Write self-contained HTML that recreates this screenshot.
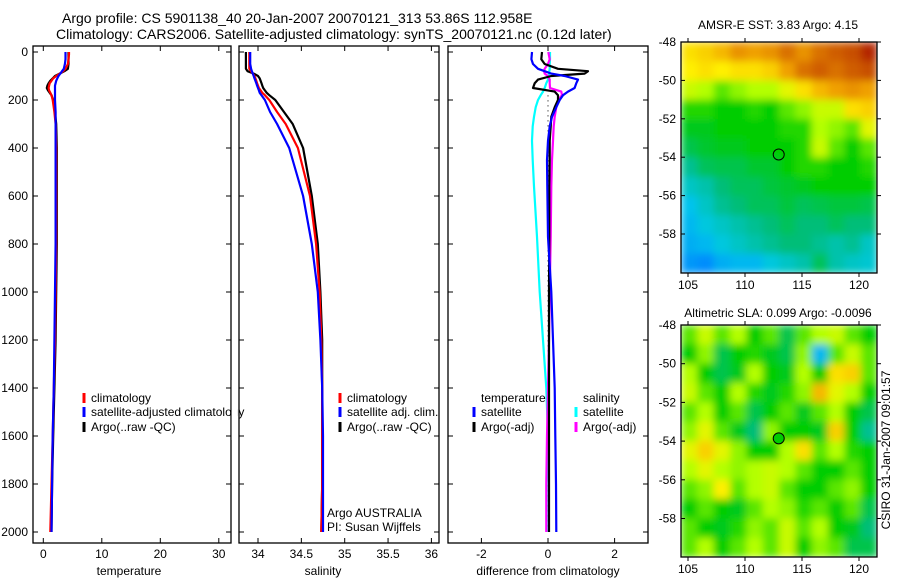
<!DOCTYPE html>
<html><head><meta charset="utf-8"><style>
html,body{margin:0;padding:0;background:#fff;}
svg{display:block;font-family:"Liberation Sans",sans-serif;}
</style></head><body>
<svg id="fig" width="900" height="580" viewBox="0 0 900 580">
<defs>
<filter id="soft" x="0" y="0" width="1" height="1"><feGaussianBlur stdDeviation="4" edgeMode="duplicate"/></filter>
<clipPath id="clip1"><rect x="681" y="42" width="196" height="231"/></clipPath>
<clipPath id="clip2"><rect x="681" y="325" width="196" height="232"/></clipPath>
</defs>
<text x="62" y="23" font-size="14">Argo profile: CS 5901138_40 20-Jan-2007 20070121_313 53.86S 112.958E</text>
<text x="56" y="39" font-size="14">Climatology: CARS2006. Satellite-adjusted climatology: synTS_20070121.nc (0.12d later)</text>
<text x="778" y="29" font-size="12" text-anchor="middle">AMSR-E SST: 3.83 Argo: 4.15</text>
<text x="778" y="317" font-size="12" text-anchor="middle">Altimetric SLA: 0.099 Argo: -0.0096</text>
<text transform="translate(890,450) rotate(-90)" font-size="12" text-anchor="middle">CSIRO 31-Jan-2007 09:01:57</text>
</svg>
<script>
// ---- data ----
const depthT = [0,10,30,50,70,80,90,100,110,120,130,140,150,160,170,180,200,250,300,400,600,800,1000,1200,1400,1600,1800,2000];
const tempClim = [4.4,4.4,4.3,4.2,3.8,3.4,2.8,2.2,1.7,1.4,1.1,1.0,0.9,1.0,1.2,1.4,1.6,1.9,2.1,2.2,2.2,2.2,2.1,2.0,1.8,1.6,1.4,1.2];
const tempSat = [3.8,3.8,3.8,3.7,3.5,3.2,2.9,2.6,2.4,2.2,2.1,2.0,2.0,2.0,2.0,2.0,2.0,2.1,2.1,2.1,2.1,2.1,2.0,1.9,1.8,1.6,1.5,1.4];
const tempArgo = [4.3,4.3,4.3,4.3,4.2,3.6,2.8,2.0,1.6,1.2,0.9,0.7,0.6,0.8,1.1,1.4,1.7,2.0,2.2,2.3,2.3,2.3,2.2,2.1,1.9,1.7,1.5,1.4];
const salClim = [33.9,33.9,33.9,33.9,33.9,33.92,33.94,33.96,33.97,33.98,33.99,34.0,34.01,34.03,34.05,34.08,34.13,34.22,34.32,34.46,34.6,34.67,34.71,34.73,34.74,34.74,34.74,34.73];
const salSat = [33.91,33.91,33.91,33.91,33.92,33.93,33.94,33.95,33.96,33.97,33.98,33.99,34.0,34.01,34.02,34.04,34.08,34.14,34.22,34.36,34.52,34.62,34.69,34.72,34.74,34.75,34.75,34.75];
const salArgo = [33.86,33.86,33.86,33.86,33.86,33.88,33.95,34.0,34.02,34.03,34.04,34.05,34.06,34.08,34.1,34.13,34.2,34.3,34.4,34.52,34.62,34.69,34.72,34.74,34.74,34.74,34.74,34.73];
const depthD = [0,30,50,70,80,90,100,115,130,150,165,180,200,230,270,310,370,450,560,770,1000,1200,1400,1600,1800,2000];
const dTempSat = [-0.48,-0.5,-0.45,-0.3,-0.1,0.1,0.5,0.9,0.85,0.8,0.6,0.45,0.35,0.25,0.12,0.05,0,-0.03,-0.02,0,0.1,0.15,0.2,0.22,0.24,0.25];
const dTempArgo = [-0.18,-0.2,-0.1,0.3,1.2,1.1,0.1,-0.3,-0.4,-0.45,0.2,0.3,0.3,0.2,0.1,0.08,0.05,0.05,0.04,0.04,0.03,0.03,0.03,0.03,0.03,0.03];
const dSalSat = [0.06,0.06,0.05,0.05,0.04,0.04,0.03,0.0,-0.05,-0.1,-0.15,-0.22,-0.3,-0.37,-0.42,-0.46,-0.48,-0.46,-0.42,-0.33,-0.25,-0.15,-0.05,0,0.02,0.02];
const dSalArgo = [0.01,0.05,0.0,-0.1,-0.12,-0.1,0.0,0.05,0.05,0.06,0.4,0.42,0.3,0.25,0.2,0.17,0.15,0.12,0.1,0.08,0.05,0.03,0.0,-0.03,-0.05,-0.05];
const depthTicks = [0,200,400,600,800,1000,1200,1400,1600,1800,2000];
const tempTicks = [0,10,20,30];
const salTicks = ["34","34.5","35","35.5","36"];
const diffTicks = [-2,0,2];
const lonTicks = [105,110,115,120];
const latTicks = [-48,-50,-52,-54,-56,-58];
const sstGrid = [
[0.7,0.72,0.75,0.8,0.78,0.8,0.85,0.8,0.85,0.88,0.9,0.95],
[0.68,0.7,0.68,0.7,0.7,0.72,0.78,0.85,0.88,0.85,0.88,0.9],
[0.62,0.6,0.55,0.58,0.6,0.6,0.65,0.7,0.75,0.78,0.8,0.78],
[0.52,0.52,0.5,0.5,0.52,0.5,0.55,0.58,0.62,0.62,0.7,0.72],
[0.48,0.48,0.5,0.5,0.5,0.5,0.52,0.52,0.6,0.58,0.55,0.65],
[0.45,0.47,0.48,0.48,0.5,0.5,0.5,0.52,0.62,0.55,0.5,0.55],
[0.4,0.44,0.45,0.45,0.47,0.47,0.5,0.52,0.52,0.5,0.5,0.52],
[0.36,0.38,0.42,0.44,0.44,0.46,0.47,0.48,0.5,0.5,0.5,0.5],
[0.32,0.36,0.4,0.42,0.44,0.44,0.46,0.44,0.45,0.46,0.46,0.45],
[0.3,0.34,0.36,0.38,0.4,0.42,0.44,0.42,0.42,0.44,0.42,0.42],
[0.28,0.3,0.34,0.36,0.38,0.4,0.42,0.42,0.4,0.38,0.4,0.36],
[0.24,0.22,0.28,0.3,0.3,0.34,0.36,0.38,0.44,0.38,0.36,0.35]];
const slaGrid = [
[0.55,0.62,0.55,0.6,0.5,0.55,0.45,0.55,0.6,0.62,0.55,0.5],
[0.5,0.58,0.45,0.5,0.52,0.48,0.45,0.58,0.3,0.55,0.62,0.55],
[0.6,0.5,0.45,0.48,0.6,0.5,0.48,0.6,0.5,0.7,0.72,0.55],
[0.62,0.55,0.5,0.6,0.52,0.48,0.52,0.58,0.75,0.65,0.6,0.5],
[0.55,0.6,0.5,0.55,0.45,0.5,0.55,0.48,0.55,0.6,0.5,0.45],
[0.58,0.65,0.55,0.48,0.42,0.58,0.5,0.5,0.48,0.72,0.5,0.4],
[0.65,0.72,0.65,0.58,0.5,0.5,0.6,0.7,0.55,0.6,0.52,0.5],
[0.6,0.65,0.6,0.58,0.6,0.62,0.6,0.55,0.5,0.5,0.55,0.5],
[0.55,0.58,0.68,0.55,0.6,0.62,0.55,0.5,0.5,0.55,0.58,0.5],
[0.5,0.55,0.5,0.48,0.55,0.6,0.58,0.52,0.55,0.5,0.55,0.45],
[0.55,0.5,0.48,0.52,0.58,0.55,0.62,0.55,0.6,0.5,0.48,0.42],
[0.55,0.6,0.5,0.55,0.6,0.55,0.62,0.5,0.58,0.55,0.45,0.45]];
const argoLon = 112.958, argoLat = -53.86;

// ---- helpers ----
const svg = document.getElementById('fig');
const NS = 'http://www.w3.org/2000/svg';
function mk(tag, attrs, parent){const e=document.createElementNS(NS,tag);for(const k in attrs)e.setAttribute(k,attrs[k]);(parent||svg).appendChild(e);return e;}
const yD = d => 52 + d*0.24;
const xT = t => 43.3 + t*5.85;
const xS = s => 258 + (s-34)*86.7;
const xDf = v => 548 + v*33.3;
const xLon = l => 688 + (l-105)*11.4;
const yLat1 = la => 42 + (-48-la)*19.2;
const yLat2 = la => 325 + (-48-la)*19.35;

function panel(name, x0, x1, y0, y1){
  const r = mk('rect',{x:x0,y:y0,width:x1-x0,height:y1-y0,fill:'none',stroke:'#000','stroke-width':1.3});
  
  
}
function depthAxis(x0,x1,labels){
  depthTicks.forEach(d=>{
    const y=yD(d);
    const t1=mk('line',{x1:x0,x2:x0+5,y1:y,y2:y,stroke:'#000'});
    
    
    mk('line',{x1:x1-5,x2:x1,y1:y,y2:y,stroke:'#000'});
    if(labels){const t=mk('text',{x:28,y:y+4,'font-size':12,'text-anchor':'end'});t.textContent=d;
      
      }
  });
}
function xAxis(ticks, fx, y0, y1, title, tx){
  ticks.forEach(v=>{
    const x=fx(parseFloat(v));
    mk('line',{x1:x,x2:x,y1:y1,y2:y1-5,stroke:'#000'});
    mk('line',{x1:x,x2:x,y1:y0,y2:y0+5,stroke:'#000'});
    const t=mk('text',{x:x,y:y1+15,'font-size':12,'text-anchor':'middle'});t.textContent=v;
    
    
  });
  const t=mk('text',{x:tx,y:y1+32,'font-size':12,'text-anchor':'middle'});t.textContent=title;
  
  
}
function line(vals, depths, fx, color, name, w){
  const pts = vals.map((v,i)=>fx(v).toFixed(1)+','+yD(depths[i]).toFixed(1)).join(' ');
  const p=mk('polyline',{points:pts,fill:'none',stroke:color,'stroke-width':w||2.2,'stroke-linejoin':'round'});
  
  
}
function legendEntry(x,y,color,label,name){
  mk('line',{x1:x,x2:x,y1:y-9,y2:y+1,stroke:color,'stroke-width':3});
  const t=mk('text',{x:x+7,y:y,'font-size':12});t.textContent=label;
  
  
}

// ---- temperature panel ----
panel('temperature-panel',33,231,46,543);
depthAxis(33,231,true);
xAxis(tempTicks,xT,46,543,'temperature',129);
line(tempArgo,depthT,xT,'#000','temp-argo-line');
line(tempClim,depthT,xT,'#f00','temp-climatology-line');
line(tempSat,depthT,xT,'#00f','temp-satellite-line');
legendEntry(84,402,'#f00','climatology','legend-climatology');
legendEntry(84,416,'#00f','satellite-adjusted climatology','legend-satellite-adjusted');
legendEntry(84,431,'#000','Argo(..raw -QC)','legend-argo');
mk('rect',{x:231.7,y:380,width:6,height:60,fill:'#fff'});

// ---- salinity panel ----
panel('salinity-panel',239,439,46,543);
depthAxis(239,439,false);
xAxis(salTicks,xS,46,543,'salinity',323);
line(salArgo,depthT,xS,'#000','sal-argo-line');
line(salClim,depthT,xS,'#f00','sal-climatology-line');
line(salSat,depthT,xS,'#00f','sal-satellite-line');
legendEntry(340,402,'#f00','climatology','legend-sal-climatology');
legendEntry(340,416,'#00f','satellite adj. clim.','legend-sal-satellite');
legendEntry(340,431,'#000','Argo(..raw -QC)','legend-sal-argo');
{const t=mk('text',{x:327,y:517,'font-size':12});t.textContent='Argo AUSTRALIA';


const t2=mk('text',{x:327,y:531,'font-size':12});t2.textContent='PI: Susan Wijffels';

}

// ---- difference panel ----
panel('difference-panel',448,648,46,543);
depthAxis(448,648,false);
xAxis(diffTicks,xDf,46,543,'difference from climatology',548);
mk('line',{x1:xDf(0),x2:xDf(0),y1:yD(160),y2:yD(2000),stroke:'#000','stroke-dasharray':'1,4'});
line(dSalSat,depthD,xDf,'#0ff','diff-sal-satellite-line');
line(dSalArgo,depthD,xDf,'#f0f','diff-sal-argo-line');
line(dTempArgo,depthD,xDf,'#000','diff-temp-argo-line');
line(dTempSat,depthD,xDf,'#00f','diff-temp-satellite-line');
{const t=mk('text',{x:481,y:402,'font-size':12});t.textContent='temperature';


const t2=mk('text',{x:583,y:402,'font-size':12});t2.textContent='salinity';

}
legendEntry(474,416,'#00f','satellite','legend-temp-satellite');
legendEntry(474,431,'#000','Argo(-adj)','legend-temp-argo');
legendEntry(576,416,'#0ff','satellite','legend-sal-sat');
legendEntry(576,431,'#f0f','Argo(-adj)','legend-sal-argo-adj');

// ---- maps ----
const cmapStops=[[0,[0,60,200]],[0.2,[0,130,255]],[0.33,[0,200,235]],[0.42,[0,190,120]],[0.5,[0,205,0]],[0.6,[180,255,0]],[0.68,[255,240,0]],[0.78,[240,160,0]],[0.9,[200,80,0]],[1,[160,0,0]]];
function cmap(v){
  for(let i=1;i<cmapStops.length;i++){
    if(v<=cmapStops[i][0]){const [a,ca]=cmapStops[i-1],[b,cb]=cmapStops[i];const f=(v-a)/(b-a);
      return 'rgb('+ca.map((c,k)=>Math.round(c+(cb[k]-c)*f)).join(',')+')';}
  }
  return 'rgb(160,0,0)';
}
function mapPanel(name,grid,y0,y1,fy,clip){
  const x0=681,x1=877,rows=grid.length,cols=grid[0].length;
  const cw=(x1-x0)/cols,ch=(y1-y0)/rows;
  const outer=mk('g',{'clip-path':'url(#'+clip+')'});
  const g=mk('g',{filter:'url(#soft)'},outer);
  grid.forEach((row,r)=>row.forEach((v,c)=>{
    const cell=mk('rect',{x:x0+c*cw,y:y0+r*ch,width:cw+0.6,height:ch+0.6,fill:cmap(v)},g);
    
    
  }));
  panel(name+'-frame',x0,x1,y0,y1);
  latTicks.forEach(la=>{
    const y=fy(la);
    mk('line',{x1:x0,x2:x0+4,y1:y,y2:y,stroke:'#000'});
    mk('line',{x1:x1,x2:x1+4,y1:y,y2:y,stroke:'#000'});
    const t=mk('text',{x:676,y:y+4,'font-size':12,'text-anchor':'end'});t.textContent=la;
    
    
  });
  lonTicks.forEach(l=>{
    const x=xLon(l);
    mk('line',{x1:x,x2:x,y1:y1,y2:y1+4,stroke:'#000'});
    mk('line',{x1:x,x2:x,y1:y0,y2:y0-4,stroke:'#000'});
    const t=mk('text',{x:x,y:y1+16,'font-size':12,'text-anchor':'middle'});t.textContent=l;
    
    
  });
  const c=mk('circle',{cx:xLon(argoLon),cy:fy(argoLat),r:5.5,fill:name==='sla-map'?'#0c0':'none',stroke:'#000','stroke-width':1});
  
  
}
mapPanel('sst-map',sstGrid,42,273,yLat1,'clip1');
mapPanel('sla-map',slaGrid,325,557,yLat2,'clip2');
</script>
</body></html>
